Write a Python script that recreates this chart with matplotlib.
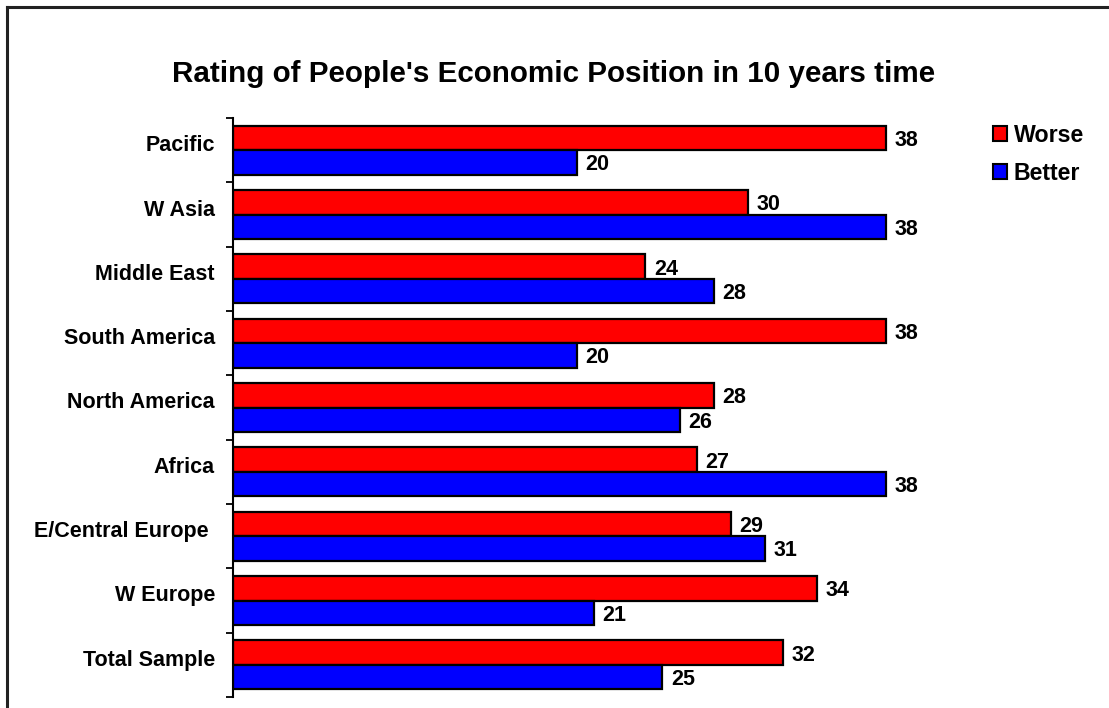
import numpy as np
import matplotlib.pyplot as plt
from matplotlib.patches import Patch
from matplotlib.lines import Line2D
from matplotlib.transforms import ScaledTranslation

plt.rcParams['font.family'] = ['Liberation Sans', 'DejaVu Sans']

# data, bottom to top
regions = ['Total Sample', 'W Europe', 'E/Central Europe ', 'Africa', 'North America',
           'South America', 'Middle East', 'W Asia', 'Pacific']
worse = [32, 34, 29, 27, 28, 38, 24, 30, 38]
better = [25, 21, 31, 38, 26, 20, 28, 38, 20]

fig = plt.figure(figsize=(11.09, 7.08), dpi=100)
ax = fig.add_axes([233/1109, 1-697/708, 687/1109, (697-118)/708])

y = np.arange(len(regions))
h = 0.38
ax.barh(y + h/2, worse, height=h, color='#ff0000', edgecolor='black', linewidth=1.6, label='Worse')
ax.barh(y - h/2, better, height=h, color='#0000ff', edgecolor='black', linewidth=1.6, label='Better')

for i in range(len(regions)):
    ax.text(worse[i] + 0.5, y[i] + h/2, str(worse[i]), va='center_baseline', ha='left',
            fontsize=15.5, fontweight='bold')
    ax.text(better[i] + 0.5, y[i] - h/2, str(better[i]), va='center_baseline', ha='left',
            fontsize=15.5, fontweight='bold')

ax.set_xlim(0, 40)
ax.set_ylim(-0.5, len(regions) - 0.5)
ax.set_yticks(y)
ax.set_yticklabels(regions, fontsize=15.5, fontweight='bold')
ax.tick_params(axis='y', which='major', length=0, pad=13)
# category labels sit a little above the group centre
up = ScaledTranslation(0, 7/100, fig.dpi_scale_trans)
for lab in ax.get_yticklabels():
    lab.set_transform(lab.get_transform() + up)
ax.set_yticks(np.arange(len(regions) + 1) - 0.5, minor=True)
ax.tick_params(axis='y', which='minor', length=5, width=1.3, direction='out')
ax.set_xticks([])
for s in ['top', 'right', 'bottom']:
    ax.spines[s].set_visible(False)
ax.spines['left'].set_linewidth(1.5)

fig.text(554/1109, 1-74/708, "Rating of People's Economic Position in 10 years time",
         ha='center', va='center', fontsize=21.3, fontweight='bold')

handles = [Patch(facecolor='#ff0000', edgecolor='black', linewidth=1.5),
           Patch(facecolor='#0000ff', edgecolor='black', linewidth=1.5)]
fig.legend(handles, ['Worse', 'Better'], loc='upper left', bbox_to_anchor=(993/1109, 1-124/708),
           frameon=False, prop={'size': 16.7, 'weight': 'bold'}, handlelength=0.6,
           handleheight=0.6, handletextpad=0.3, labelspacing=0.64, borderaxespad=0, borderpad=0)

# outer frame
fig.add_artist(Line2D([7/1109, 1], [1-7/708, 1-7/708], color='#222222', linewidth=2.2,
                      transform=fig.transFigure))
fig.add_artist(Line2D([7/1109, 7/1109], [0, 1-7/708], color='#222222', linewidth=2.2,
                      transform=fig.transFigure))

fig.savefig('out.png', dpi=100)
